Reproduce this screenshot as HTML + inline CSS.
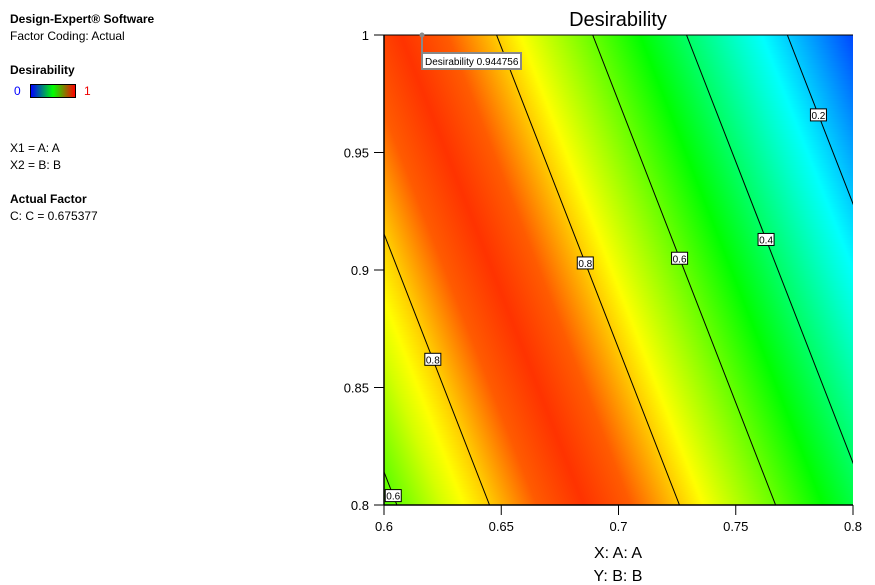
<!DOCTYPE html>
<html><head><meta charset="utf-8"><style>
body{margin:0;background:#fff;font-family:"Liberation Sans",sans-serif;}
#wrap{position:relative;width:875px;height:585px;overflow:hidden}
.t{position:absolute;font-size:12px;color:#000;white-space:nowrap}
.b{font-weight:bold}
</style></head><body>
<div id="wrap">
<div class="t b" style="left:10px;top:12px">Design-Expert® Software</div>
<div class="t" style="left:10px;top:29px">Factor Coding: Actual</div>
<div class="t b" style="left:10px;top:63px">Desirability</div>
<div class="t" style="left:14px;top:84px;color:#00f">0</div>
<div style="position:absolute;left:30px;top:84px;width:44px;height:12px;border:1px solid #000;background:linear-gradient(to right,#0000ff,#00ff00 50%,#ff0000)"></div>
<div class="t" style="left:84px;top:84px;color:#e00">1</div>
<div class="t" style="left:10px;top:141px">X1 = A: A</div>
<div class="t" style="left:10px;top:158px">X2 = B: B</div>
<div class="t b" style="left:10px;top:192px">Actual Factor</div>
<div class="t" style="left:10px;top:209px">C: C = 0.675377</div>
<canvas id="heat" width="469" height="470" style="position:absolute;left:384px;top:35px"></canvas>
<svg id="svg" width="875" height="585" style="position:absolute;left:0;top:0"></svg>
</div>
<script>
// profile of desirability along effective A (A shifted by B)
const profileA=[0.50,0.522,0.5275,0.547,0.567,0.587,0.607,0.627,0.648,0.668,0.689,0.709,0.729,0.750,0.772,0.80,0.82];
const profileD=[0.55,0.58,0.6,0.71,0.8,0.91,0.95,0.91,0.8,0.70,0.6,0.5,0.4,0.3,0.2,0.07,0.0];
const contourLevels=[0.6,0.8,0.8,0.6,0.4,0.2];
const contourA0=[0.5275,0.567,0.648,0.689,0.729,0.772]; // A at B=1
const labelB=[0.804,0.862,0.903,0.905,0.913,0.966];
const xTicks=[0.6,0.65,0.7,0.75,0.8];
const yTicks=[0.8,0.85,0.9,0.95,1];
const shiftSlope=0.39;
const L=384,R=853,T=35,Bt=505;
const X=a=>L+(a-0.6)/0.2*(R-L);
const Y=b=>Bt-(b-0.8)/0.2*(Bt-T);
function dAt(ae){for(let i=0;i<profileA.length-1;i++){if(ae<=profileA[i+1]||i==profileA.length-2){const t=(ae-profileA[i])/(profileA[i+1]-profileA[i]);return profileD[i]+t*(profileD[i+1]-profileD[i]);}}}
function col(d){d=Math.max(0,Math.min(1,d));const s=[[0,0,255],[0,255,255],[0,255,0],[255,255,0],[255,0,0]];const p=d*4,i=Math.min(3,Math.floor(p)),t=p-i;return s[i].map((v,k)=>Math.round(v+(s[i+1][k]-v)*t));}
const cv=document.getElementById('heat'),ctx=cv.getContext('2d'),img=ctx.createImageData(469,470);
for(let py=0;py<470;py++){const b=1-py/470*0.2;for(let px=0;px<469;px++){const a=0.6+px/469*0.2;const c=col(dAt(a-shiftSlope*(1-b)));const o=(py*469+px)*4;img.data[o]=c[0];img.data[o+1]=c[1];img.data[o+2]=c[2];img.data[o+3]=255;}}
ctx.putImageData(img,0,0);
const svg=document.getElementById('svg'),NS='http://www.w3.org/2000/svg';
function el(n,at,p){const e=document.createElementNS(NS,n);for(const k in at)e.setAttribute(k,at[k]);(p||svg).appendChild(e);return e;}
const cp=el('clipPath',{id:'cp'});el('rect',{x:L,y:T,width:R-L,height:Bt-T},cp);
contourA0.forEach((a0,i)=>{
 const ln=el('line',{x1:X(a0),y1:Y(1),x2:X(a0+shiftSlope*0.2),y2:Y(0.8),stroke:'#000','stroke-width':1,'clip-path':'url(#cp)'});
 
 
});
contourA0.forEach((a0,i)=>{
 const b=labelB[i],cx=X(a0+shiftSlope*(1-b)),cy=Y(b);
 const g=el('g',{});
 
 
 el('rect',{x:cx-8,y:cy-6,width:16,height:12,fill:'#fff',stroke:'#000','stroke-width':1},g);
 const t=el('text',{x:cx,y:cy+4,'text-anchor':'middle','font-size':10,'font-family':'Liberation Sans'},g);t.textContent=contourLevels[i];
});
el('line',{x1:L,y1:T,x2:L,y2:Bt,stroke:'#000','stroke-width':1.5});
el('line',{x1:L,y1:Bt,x2:R,y2:Bt,stroke:'#000','stroke-width':1.5});
el('line',{x1:L,y1:T,x2:R,y2:T,stroke:'#000','stroke-width':1});
xTicks.forEach(v=>{const x=X(v);
 const tk=el('line',{x1:x,y1:Bt,x2:x,y2:Bt+10,stroke:'#000'});
 
 
 const t=el('text',{x:x,y:Bt+26,'text-anchor':'middle','font-size':13,'font-family':'Liberation Sans'});t.textContent=v;
 
 });
yTicks.forEach(v=>{const y=Y(v);
 const tk=el('line',{x1:L-10,y1:y,x2:L,y2:y,stroke:'#000'});
 
 
 const t=el('text',{x:L-15,y:y+5,'text-anchor':'end','font-size':13,'font-family':'Liberation Sans'});t.textContent=v;
 
 });
const tt=el('text',{x:618,y:26,'text-anchor':'middle','font-size':20,'font-family':'Liberation Sans'});tt.textContent='Desirability';


const xt=el('text',{x:618,y:558,'text-anchor':'middle','font-size':16,'font-family':'Liberation Sans'});xt.textContent='X: A: A';


const yt=el('text',{x:618,y:581,'text-anchor':'middle','font-size':16,'font-family':'Liberation Sans'});yt.textContent='Y: B: B';


const tg=el('g',{});


el('line',{x1:422,y1:35,x2:422,y2:53,stroke:'#888','stroke-width':2},tg);
el('circle',{cx:422,cy:35,r:2.5,fill:'#888'},tg);
el('rect',{x:422,y:53,width:99,height:16,fill:'#fff',stroke:'#888','stroke-width':2},tg);
const tx=el('text',{x:425,y:65,'font-size':10,'font-family':'Liberation Sans'},tg);tx.textContent='Desirability  0.944756';
</script>
</body></html>
